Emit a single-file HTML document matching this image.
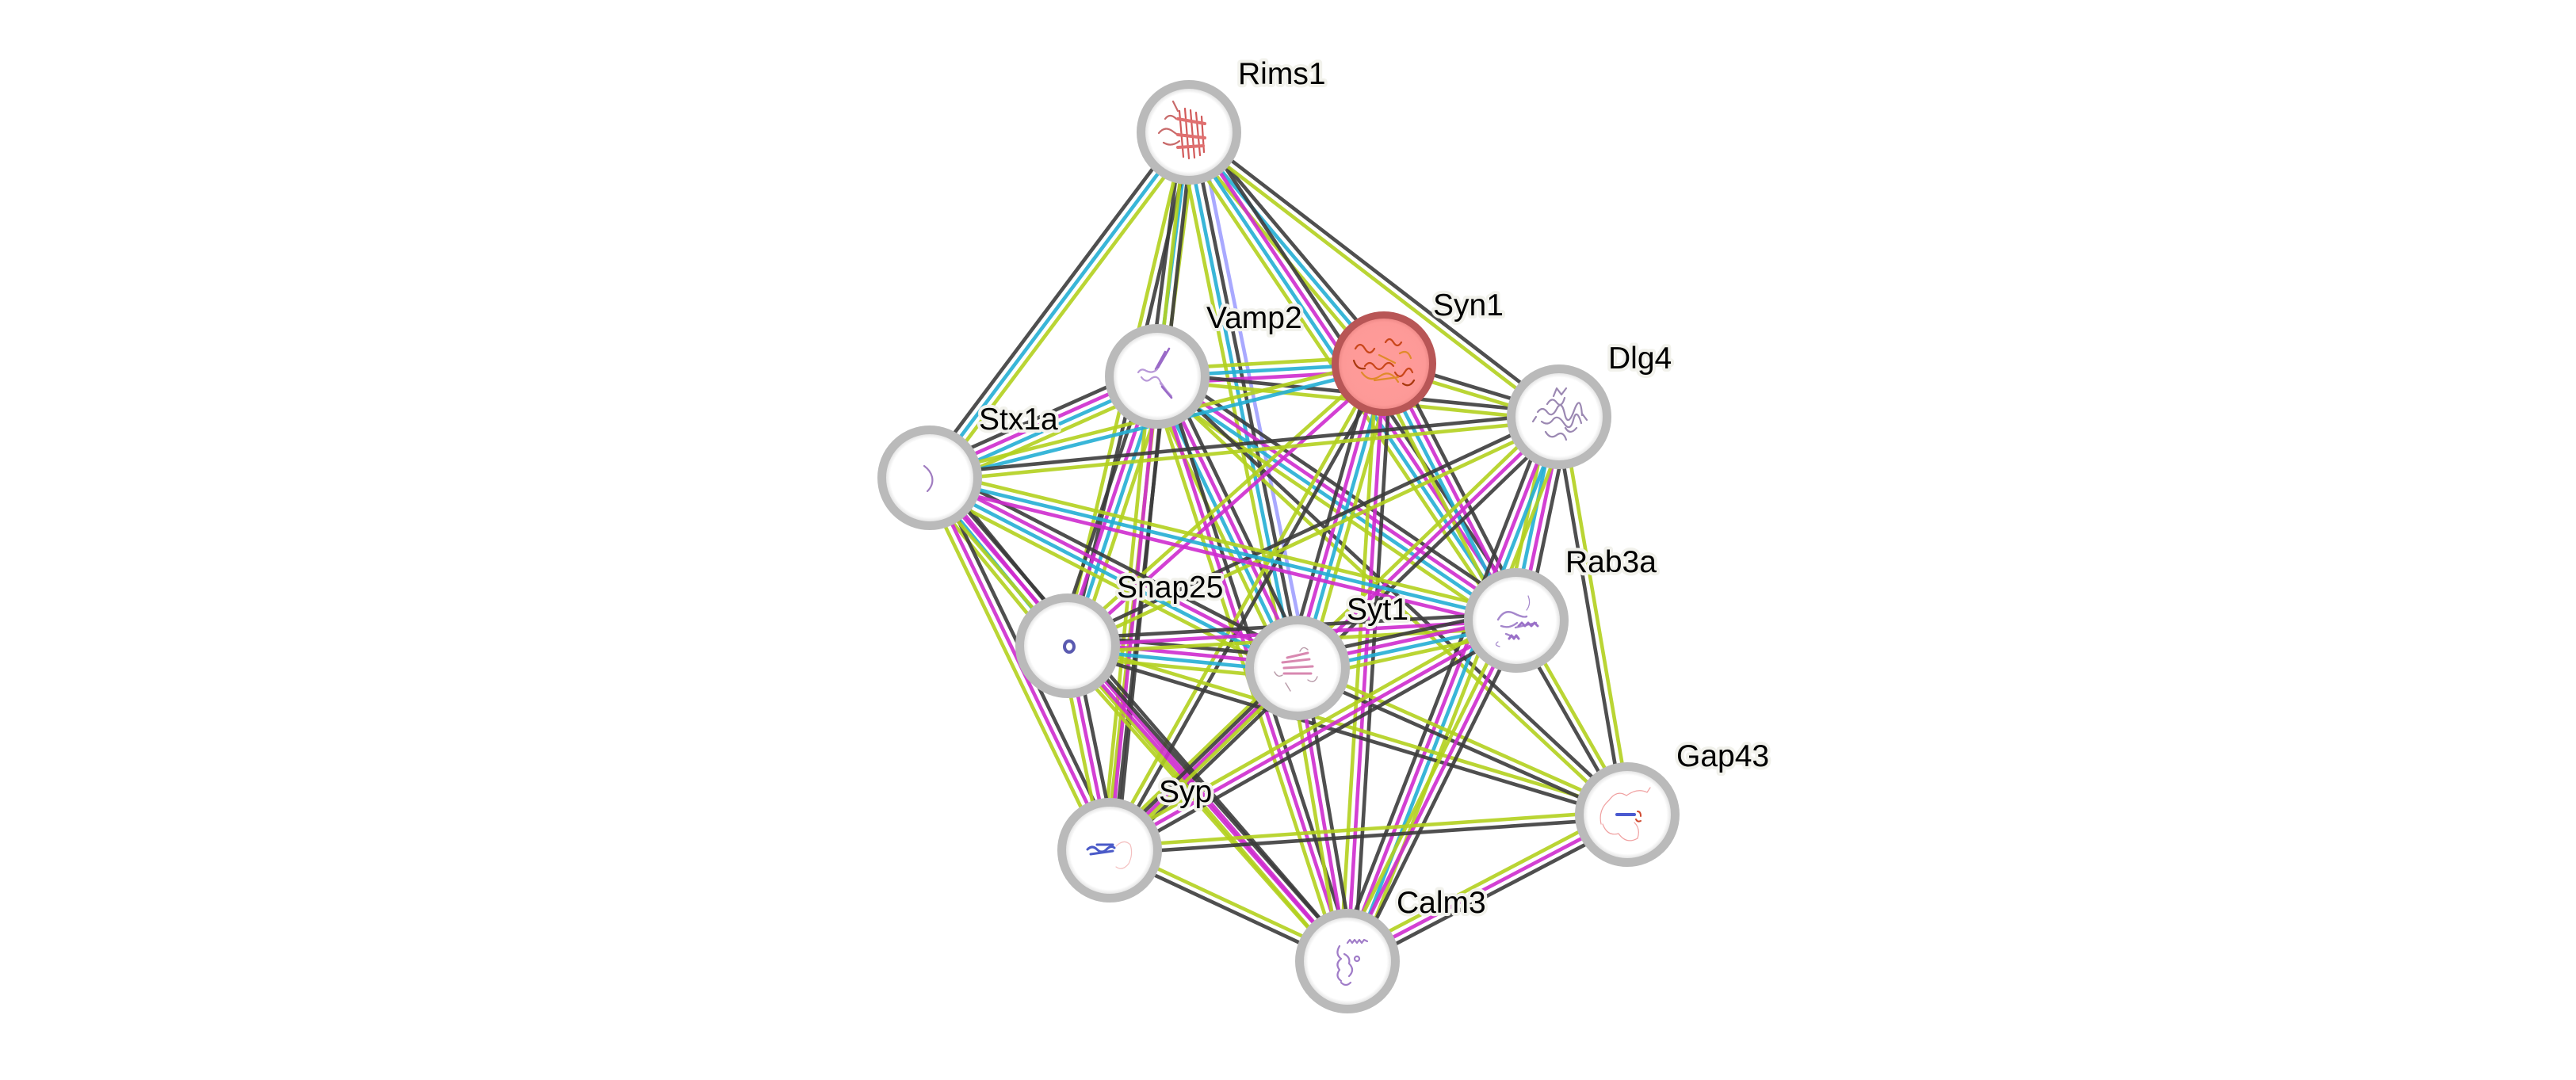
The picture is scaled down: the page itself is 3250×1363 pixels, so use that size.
<!DOCTYPE html>
<html><head><meta charset="utf-8"><title>STRING network - Syn1</title>
<style>
html,body{margin:0;padding:0;background:#fff;}
svg{display:block}
line{stroke-width:4.6;opacity:.9}
.k{stroke:#3c3c3c}.m{stroke:#cf2ccf}.c{stroke:#24afd4}.g{stroke:#b3d11f}.l{stroke:#a0a0ff}
.lab{font-family:"Liberation Sans",Arial,sans-serif;font-size:39px;fill:#000;stroke:#f2f2ec;stroke-width:8px;paint-order:stroke;stroke-linejoin:round}
.pr{fill:none;stroke-width:2.2;stroke-linecap:round;stroke-linejoin:round}
</style></head>
<body>
<svg width="3250" height="1363" viewBox="0 0 3250 1363" xmlns="http://www.w3.org/2000/svg">
<defs>
<radialGradient id="gw" cx="50%" cy="50%" r="50%">
<stop offset="0" stop-color="#fff"/><stop offset="0.82" stop-color="#fff"/><stop offset="0.92" stop-color="#e2e2e2"/><stop offset="1" stop-color="#cfcfcf"/>
</radialGradient>
<radialGradient id="gr" cx="50%" cy="50%" r="50%">
<stop offset="0" stop-color="#ff9d9b"/><stop offset="0.85" stop-color="#fd9997"/><stop offset="1" stop-color="#e57f7d"/>
</radialGradient>
</defs>
<rect width="3250" height="1363" fill="#fff"/>
<g id="edges">
<!-- R-X -->
<line class="g" x1="1500" y1="167" x2="1173" y2="603" transform="translate(7.2,5.4)"/>
<line class="c" x1="1500" y1="167" x2="1173" y2="603"/>
<line class="k" x1="1500" y1="167" x2="1173" y2="603" transform="translate(-7.2,-5.4)"/>
<!-- R-V -->
<line class="g" x1="1500" y1="167" x2="1460" y2="475" transform="translate(8.93,1.16)"/>
<line class="c" x1="1500" y1="167" x2="1460" y2="475"/>
<line class="k" x1="1500" y1="167" x2="1460" y2="475" transform="translate(-8.93,-1.16)"/>
<!-- R-N -->
<line class="k" x1="1500" y1="167" x2="1347" y2="815" transform="translate(4.38,1.04)"/>
<line class="g" x1="1500" y1="167" x2="1347" y2="815" transform="translate(-4.38,-1.04)"/>
<!-- R-P -->
<line class="k" x1="1500" y1="167" x2="1400" y2="1073" transform="translate(4.47,0.5)"/>
<line class="g" x1="1500" y1="167" x2="1400" y2="1073" transform="translate(-4.47,-0.5)"/>
<!-- R-T -->
<line class="l" x1="1500" y1="167" x2="1637" y2="843" transform="translate(13.23,-2.69)"/>
<line class="k" x1="1500" y1="167" x2="1637" y2="843" transform="translate(4.41,-0.9)"/>
<line class="c" x1="1500" y1="167" x2="1637" y2="843" transform="translate(-4.41,0.9)"/>
<line class="g" x1="1500" y1="167" x2="1637" y2="843" transform="translate(-13.23,2.69)"/>
<!-- R-S -->
<line class="k" x1="1500" y1="167" x2="1746" y2="459" transform="translate(6.89,-5.8)"/>
<line class="c" x1="1500" y1="167" x2="1746" y2="459"/>
<line class="g" x1="1500" y1="167" x2="1746" y2="459" transform="translate(-6.89,5.8)"/>
<!-- R-B -->
<line class="k" x1="1500" y1="167" x2="1913" y2="783" transform="translate(11.22,-7.52)"/>
<line class="m" x1="1500" y1="167" x2="1913" y2="783" transform="translate(3.74,-2.51)"/>
<line class="c" x1="1500" y1="167" x2="1913" y2="783" transform="translate(-3.74,2.51)"/>
<line class="g" x1="1500" y1="167" x2="1913" y2="783" transform="translate(-11.22,7.52)"/>
<!-- R-D -->
<line class="k" x1="1500" y1="167" x2="1967" y2="526" transform="translate(2.75,-3.57)"/>
<line class="g" x1="1500" y1="167" x2="1967" y2="526" transform="translate(-2.75,3.57)"/>
<!-- V-X -->
<line class="g" x1="1460" y1="475" x2="1173" y2="603" transform="translate(5.49,12.33)"/>
<line class="c" x1="1460" y1="475" x2="1173" y2="603" transform="translate(1.83,4.11)"/>
<line class="m" x1="1460" y1="475" x2="1173" y2="603" transform="translate(-1.83,-4.11)"/>
<line class="k" x1="1460" y1="475" x2="1173" y2="603" transform="translate(-5.49,-12.33)"/>
<!-- V-S -->
<line class="g" x1="1460" y1="475" x2="1746" y2="459" transform="translate(-0.5,-9)"/>
<line class="c" x1="1460" y1="475" x2="1746" y2="459"/>
<line class="m" x1="1460" y1="475" x2="1746" y2="459" transform="translate(0.5,9)"/>
<!-- V-D -->
<line class="k" x1="1460" y1="475" x2="1967" y2="526" transform="translate(0.45,-4.48)"/>
<line class="g" x1="1460" y1="475" x2="1967" y2="526" transform="translate(-0.45,4.48)"/>
<!-- V-N -->
<line class="g" x1="1460" y1="475" x2="1347" y2="815" transform="translate(12.81,4.25)"/>
<line class="c" x1="1460" y1="475" x2="1347" y2="815" transform="translate(4.27,1.42)"/>
<line class="m" x1="1460" y1="475" x2="1347" y2="815" transform="translate(-4.27,-1.42)"/>
<line class="k" x1="1460" y1="475" x2="1347" y2="815" transform="translate(-12.81,-4.25)"/>
<!-- V-T -->
<line class="k" x1="1460" y1="475" x2="1637" y2="843" transform="translate(12.16,-5.85)"/>
<line class="m" x1="1460" y1="475" x2="1637" y2="843" transform="translate(4.05,-1.95)"/>
<line class="c" x1="1460" y1="475" x2="1637" y2="843" transform="translate(-4.05,1.95)"/>
<line class="g" x1="1460" y1="475" x2="1637" y2="843" transform="translate(-12.16,5.85)"/>
<!-- V-B -->
<line class="k" x1="1460" y1="475" x2="1913" y2="783" transform="translate(7.59,-11.16)"/>
<line class="m" x1="1460" y1="475" x2="1913" y2="783" transform="translate(2.53,-3.72)"/>
<line class="c" x1="1460" y1="475" x2="1913" y2="783" transform="translate(-2.53,3.72)"/>
<line class="g" x1="1460" y1="475" x2="1913" y2="783" transform="translate(-7.59,11.16)"/>
<!-- V-P -->
<line class="k" x1="1460" y1="475" x2="1400" y2="1073" transform="translate(8.96,0.9)"/>
<line class="m" x1="1460" y1="475" x2="1400" y2="1073"/>
<line class="g" x1="1460" y1="475" x2="1400" y2="1073" transform="translate(-8.96,-0.9)"/>
<!-- V-C -->
<line class="k" x1="1460" y1="475" x2="1700" y2="1213" transform="translate(8.56,-2.78)"/>
<line class="m" x1="1460" y1="475" x2="1700" y2="1213"/>
<line class="g" x1="1460" y1="475" x2="1700" y2="1213" transform="translate(-8.56,2.78)"/>
<!-- V-G -->
<line class="k" x1="1460" y1="475" x2="2053" y2="1028" transform="translate(3.07,-3.29)"/>
<line class="g" x1="1460" y1="475" x2="2053" y2="1028" transform="translate(-3.07,3.29)"/>
<!-- S-X -->
<line class="c" x1="1746" y1="459" x2="1173" y2="603" transform="translate(1.1,4.37)"/>
<line class="g" x1="1746" y1="459" x2="1173" y2="603" transform="translate(-1.1,-4.37)"/>
<!-- S-D -->
<line class="k" x1="1746" y1="459" x2="1967" y2="526" transform="translate(1.31,-4.31)"/>
<line class="g" x1="1746" y1="459" x2="1967" y2="526" transform="translate(-1.31,4.31)"/>
<!-- S-T -->
<line class="g" x1="1746" y1="459" x2="1637" y2="843" transform="translate(12.99,3.69)"/>
<line class="c" x1="1746" y1="459" x2="1637" y2="843" transform="translate(4.33,1.23)"/>
<line class="m" x1="1746" y1="459" x2="1637" y2="843" transform="translate(-4.33,-1.23)"/>
<line class="k" x1="1746" y1="459" x2="1637" y2="843" transform="translate(-12.99,-3.69)"/>
<!-- S-N -->
<line class="m" x1="1746" y1="459" x2="1347" y2="815" transform="translate(3,3.36)"/>
<line class="g" x1="1746" y1="459" x2="1347" y2="815" transform="translate(-3,-3.36)"/>
<!-- S-P -->
<line class="k" x1="1746" y1="459" x2="1400" y2="1073" transform="translate(3.92,2.21)"/>
<line class="g" x1="1746" y1="459" x2="1400" y2="1073" transform="translate(-3.92,-2.21)"/>
<!-- S-C -->
<line class="k" x1="1746" y1="459" x2="1700" y2="1213" transform="translate(8.98,0.54)"/>
<line class="m" x1="1746" y1="459" x2="1700" y2="1213"/>
<line class="g" x1="1746" y1="459" x2="1700" y2="1213" transform="translate(-8.98,-0.54)"/>
<!-- S-B -->
<line class="k" x1="1746" y1="459" x2="1913" y2="783" transform="translate(12,-6.18)"/>
<line class="m" x1="1746" y1="459" x2="1913" y2="783" transform="translate(4,-2.06)"/>
<line class="c" x1="1746" y1="459" x2="1913" y2="783" transform="translate(-4,2.06)"/>
<line class="g" x1="1746" y1="459" x2="1913" y2="783" transform="translate(-12,6.18)"/>
<!-- D-X -->
<line class="k" x1="1967" y1="526" x2="1173" y2="603" transform="translate(-0.44,-4.48)"/>
<line class="g" x1="1967" y1="526" x2="1173" y2="603" transform="translate(0.44,4.48)"/>
<!-- D-N -->
<line class="k" x1="1967" y1="526" x2="1347" y2="815" transform="translate(-1.9,-4.08)"/>
<line class="g" x1="1967" y1="526" x2="1347" y2="815" transform="translate(1.9,4.08)"/>
<!-- D-P -->
<line class="k" x1="1967" y1="526" x2="1400" y2="1073" transform="translate(6.25,6.48)"/>
<line class="m" x1="1967" y1="526" x2="1400" y2="1073"/>
<line class="g" x1="1967" y1="526" x2="1400" y2="1073" transform="translate(-6.25,-6.48)"/>
<!-- D-B -->
<line class="k" x1="1967" y1="526" x2="1913" y2="783" transform="translate(13.22,2.78)"/>
<line class="m" x1="1967" y1="526" x2="1913" y2="783" transform="translate(4.41,0.93)"/>
<line class="c" x1="1967" y1="526" x2="1913" y2="783" transform="translate(-4.41,-0.93)"/>
<line class="g" x1="1967" y1="526" x2="1913" y2="783" transform="translate(-13.22,-2.78)"/>
<!-- D-G -->
<line class="g" x1="1967" y1="526" x2="2053" y2="1028" transform="translate(4.44,-0.76)"/>
<line class="k" x1="1967" y1="526" x2="2053" y2="1028" transform="translate(-4.44,0.76)"/>
<!-- D-C -->
<line class="g" x1="1967" y1="526" x2="1700" y2="1213" transform="translate(12.58,4.89)"/>
<line class="c" x1="1967" y1="526" x2="1700" y2="1213" transform="translate(4.19,1.63)"/>
<line class="m" x1="1967" y1="526" x2="1700" y2="1213" transform="translate(-4.19,-1.63)"/>
<line class="k" x1="1967" y1="526" x2="1700" y2="1213" transform="translate(-12.58,-4.89)"/>
<!-- X-N -->
<line class="k" x1="1173" y1="603" x2="1347" y2="815" transform="translate(10.44,-8.56)"/>
<line class="m" x1="1173" y1="603" x2="1347" y2="815" transform="translate(3.48,-2.85)"/>
<line class="c" x1="1173" y1="603" x2="1347" y2="815" transform="translate(-3.48,2.85)"/>
<line class="g" x1="1173" y1="603" x2="1347" y2="815" transform="translate(-10.44,8.56)"/>
<!-- X-T -->
<line class="k" x1="1173" y1="603" x2="1637" y2="843" transform="translate(6.2,-11.99)"/>
<line class="m" x1="1173" y1="603" x2="1637" y2="843" transform="translate(2.07,-4)"/>
<line class="c" x1="1173" y1="603" x2="1637" y2="843" transform="translate(-2.07,4)"/>
<line class="g" x1="1173" y1="603" x2="1637" y2="843" transform="translate(-6.2,11.99)"/>
<!-- X-B -->
<line class="g" x1="1173" y1="603" x2="1913" y2="783" transform="translate(2.12,-8.75)"/>
<line class="c" x1="1173" y1="603" x2="1913" y2="783"/>
<line class="m" x1="1173" y1="603" x2="1913" y2="783" transform="translate(-2.12,8.75)"/>
<!-- X-P -->
<line class="k" x1="1173" y1="603" x2="1400" y2="1073" transform="translate(8.11,-3.92)"/>
<line class="m" x1="1173" y1="603" x2="1400" y2="1073"/>
<line class="g" x1="1173" y1="603" x2="1400" y2="1073" transform="translate(-8.11,3.92)"/>
<!-- X-C -->
<line class="k" x1="1173" y1="603" x2="1700" y2="1213" transform="translate(6.81,-5.89)"/>
<line class="m" x1="1173" y1="603" x2="1700" y2="1213"/>
<line class="g" x1="1173" y1="603" x2="1700" y2="1213" transform="translate(-6.81,5.89)"/>
<!-- N-T -->
<line class="k" x1="1347" y1="815" x2="1637" y2="843" transform="translate(1.3,-13.45)"/>
<line class="m" x1="1347" y1="815" x2="1637" y2="843" transform="translate(0.43,-4.48)"/>
<line class="c" x1="1347" y1="815" x2="1637" y2="843" transform="translate(-0.43,4.48)"/>
<line class="g" x1="1347" y1="815" x2="1637" y2="843" transform="translate(-1.3,13.45)"/>
<!-- N-B -->
<line class="k" x1="1347" y1="815" x2="1913" y2="783" transform="translate(-0.5,-8.98)"/>
<line class="m" x1="1347" y1="815" x2="1913" y2="783"/>
<line class="g" x1="1347" y1="815" x2="1913" y2="783" transform="translate(0.5,8.98)"/>
<!-- N-P -->
<line class="k" x1="1347" y1="815" x2="1400" y2="1073" transform="translate(8.82,-1.81)"/>
<line class="m" x1="1347" y1="815" x2="1400" y2="1073"/>
<line class="g" x1="1347" y1="815" x2="1400" y2="1073" transform="translate(-8.82,1.81)"/>
<!-- N-C -->
<line class="k" x1="1347" y1="815" x2="1700" y2="1213" transform="translate(6.73,-5.97)"/>
<line class="m" x1="1347" y1="815" x2="1700" y2="1213"/>
<line class="g" x1="1347" y1="815" x2="1700" y2="1213" transform="translate(-6.73,5.97)"/>
<!-- N-G -->
<line class="g" x1="1347" y1="815" x2="2053" y2="1028" transform="translate(1.3,-4.31)"/>
<line class="k" x1="1347" y1="815" x2="2053" y2="1028" transform="translate(-1.3,4.31)"/>
<!-- T-B -->
<line class="k" x1="1637" y1="843" x2="1913" y2="783" transform="translate(-2.86,-13.19)"/>
<line class="m" x1="1637" y1="843" x2="1913" y2="783" transform="translate(-0.95,-4.4)"/>
<line class="c" x1="1637" y1="843" x2="1913" y2="783" transform="translate(0.95,4.4)"/>
<line class="g" x1="1637" y1="843" x2="1913" y2="783" transform="translate(2.86,13.19)"/>
<!-- T-P -->
<line class="g" x1="1637" y1="843" x2="1400" y2="1073" transform="translate(3.13,3.23)"/>
<line class="k" x1="1637" y1="843" x2="1400" y2="1073" transform="translate(-3.13,-3.23)"/>
<!-- T-C -->
<line class="k" x1="1637" y1="843" x2="1700" y2="1213" transform="translate(8.87,-1.51)"/>
<line class="m" x1="1637" y1="843" x2="1700" y2="1213"/>
<line class="g" x1="1637" y1="843" x2="1700" y2="1213" transform="translate(-8.87,1.51)"/>
<!-- T-G -->
<line class="g" x1="1637" y1="843" x2="2053" y2="1028" transform="translate(1.83,-4.11)"/>
<line class="k" x1="1637" y1="843" x2="2053" y2="1028" transform="translate(-1.83,4.11)"/>
<!-- B-P -->
<line class="k" x1="1913" y1="783" x2="1400" y2="1073" transform="translate(4.43,7.84)"/>
<line class="m" x1="1913" y1="783" x2="1400" y2="1073"/>
<line class="g" x1="1913" y1="783" x2="1400" y2="1073" transform="translate(-4.43,-7.84)"/>
<!-- B-C -->
<line class="k" x1="1913" y1="783" x2="1700" y2="1213" transform="translate(8.06,4)"/>
<line class="m" x1="1913" y1="783" x2="1700" y2="1213"/>
<line class="g" x1="1913" y1="783" x2="1700" y2="1213" transform="translate(-8.06,-4)"/>
<!-- B-G -->
<line class="g" x1="1913" y1="783" x2="2053" y2="1028" transform="translate(3.91,-2.23)"/>
<line class="k" x1="1913" y1="783" x2="2053" y2="1028" transform="translate(-3.91,2.23)"/>
<!-- P-G -->
<line class="g" x1="1400" y1="1073" x2="2053" y2="1028" transform="translate(-0.31,-4.49)"/>
<line class="k" x1="1400" y1="1073" x2="2053" y2="1028" transform="translate(0.31,4.49)"/>
<!-- P-C -->
<line class="g" x1="1400" y1="1073" x2="1700" y2="1213" transform="translate(1.9,-4.08)"/>
<line class="k" x1="1400" y1="1073" x2="1700" y2="1213" transform="translate(-1.9,4.08)"/>
<!-- C-G -->
<line class="g" x1="1700" y1="1213" x2="2053" y2="1028" transform="translate(-4.18,-7.97)"/>
<line class="m" x1="1700" y1="1213" x2="2053" y2="1028"/>
<line class="k" x1="1700" y1="1213" x2="2053" y2="1028" transform="translate(4.18,7.97)"/>
</g>

<g id="nodes">
<!-- Rims1 -->
<circle cx="1500" cy="167" r="60.5" fill="url(#gw)" stroke="#bababa" stroke-width="11"/>
<g class="pr" stroke="#d25a5a">
<path d="M1488 140 L1493 198 M1495 137 L1500 200 M1502 139 L1507 199 M1509 142 L1514 196 M1516 147 L1519 192"/>
<path d="M1462 168 q8 -10 18 -2 t16 4 M1468 180 q10 6 20 -2 M1480 128 l6 12 M1470 150 q6 -8 14 0" stroke="#c86a6a"/>
<path d="M1486 150 l34 6 M1486 170 l34 4 M1486 186 l32 -2" stroke="#e07070" stroke-width="4"/>
</g>
<!-- Syn1 -->
<circle cx="1746" cy="459" r="61.5" fill="url(#gr)" stroke="#b85656" stroke-width="9"/>
<g class="pr" stroke="#c9461a">
<path d="M1710 440 q6 -10 12 0 t12 0 M1722 462 q6 -8 12 0 t12 0 t12 0 M1748 432 q5 -8 10 0 t10 0 M1760 470 q6 10 12 0 t10 0"/>
<path d="M1718 470 q10 14 24 4 q12 -8 22 8 M1740 448 l20 10 M1734 480 l30 -4 M1766 446 q10 -6 14 6" stroke="#e08a2a"/>
<path d="M1708 455 q4 12 14 10 M1770 484 q8 6 14 -4" stroke="#a8380e"/>
</g>
<!-- Dlg4 -->
<circle cx="1967" cy="526" r="60.5" fill="url(#gw)" stroke="#bababa" stroke-width="11"/>
<g class="pr" stroke="#9b88b2" stroke-width="1.6">
<path d="M1940 520 q6 -8 12 0 t12 -4 t10 6 t12 -4 t10 6 M1945 532 q8 6 14 -2 t14 4 t12 -4 t10 4 M1952 510 q6 -10 12 -2 t10 -6 M1960 500 l4 -10 l6 8 l6 -8 M1950 545 q6 10 14 4 t12 6 M1975 540 q6 10 14 0 M1938 526 l-4 6 M1996 522 l6 8"/>
</g>
<!-- Vamp2 -->
<circle cx="1460" cy="475" r="60.5" fill="url(#gw)" stroke="#bababa" stroke-width="11"/>
<g class="pr" stroke="#9a6ac8" stroke-width="1.6">
<path d="M1475 440 l-14 24 M1470 444 l-12 22" stroke-width="2.6"/>
<path d="M1436 470 q4 -6 10 -2 q8 4 14 -2 M1440 476 q6 8 12 2 q8 -6 12 4 l10 14 M1464 484 l14 16" stroke="#b898d8"/>
<path d="M1466 488 l12 14" stroke-width="2.6"/>
</g>
<!-- Stx1a -->
<circle cx="1173" cy="603" r="60.5" fill="url(#gw)" stroke="#bababa" stroke-width="11"/>
<path class="pr" d="M1166 588 q8 6 10 14 q2 10 -6 18" stroke="#a07cc0" stroke-width="4"/>
<!-- Snap25 -->
<circle cx="1347" cy="815" r="60.5" fill="url(#gw)" stroke="#bababa" stroke-width="11"/>
<ellipse cx="1349" cy="816" rx="6" ry="7" fill="none" stroke="#5a5ab0" stroke-width="4"/>
<!-- Syt1 -->
<circle cx="1637" cy="843" r="60.5" fill="url(#gw)" stroke="#bababa" stroke-width="11"/>
<g class="pr" stroke="#d888b0">
<path d="M1618 836 l34 -4 M1620 843 l36 -2 M1620 850 l34 0 M1624 830 l26 -6" stroke-width="3"/>
<path d="M1608 848 q4 8 10 4 M1622 862 l6 10 M1650 858 q8 6 12 -4 M1640 822 q4 -8 10 -2" stroke="#b89aa8" stroke-width="1.4"/>
</g>
<!-- Rab3a -->
<circle cx="1913" cy="783" r="60.5" fill="url(#gw)" stroke="#bababa" stroke-width="11"/>
<g class="pr" stroke="#a587cc">
<path d="M1890 782 q8 -14 20 -8 t16 4 M1894 790 q10 4 20 -4 M1912 792 l26 -6 M1900 800 l10 4" stroke-width="2.4"/>
<path d="M1916 790 l4 -4 l4 4 l4 -4 l4 4 l4 -4 l4 4 M1904 806 l3 -4 l3 4 l3 -4 l3 4" stroke="#9a70c8" stroke-width="3"/>
<path d="M1928 752 q4 10 -2 18 M1890 810 q-6 4 2 6" stroke-width="1.2"/>
</g>
<!-- Gap43 -->
<circle cx="2053" cy="1028" r="60.5" fill="url(#gw)" stroke="#bababa" stroke-width="11"/>
<g class="pr">
<path d="M2030 1010 q10 -14 22 -6 q14 -10 26 -4 l4 -6 M2020 1040 q-4 -18 10 -30 M2022 1040 q6 16 20 12 q10 14 24 6 q4 -12 -4 -20" stroke="#f0a0a0" stroke-width="1.2"/>
<path d="M2040 1028 l22 0" stroke="#4a5ad0" stroke-width="4"/>
<path d="M2066 1024 q4 0 4 6 M2064 1034 q2 4 6 2" stroke="#d04a30" stroke-width="2"/>
</g>
<!-- Syp -->
<circle cx="1400" cy="1073" r="60.5" fill="url(#gw)" stroke="#bababa" stroke-width="11"/>
<g class="pr">
<path d="M1372 1072 q6 -6 12 0 t12 0 t10 -2 M1376 1078 l28 -4 M1384 1066 l20 0" stroke="#4a5ac8" stroke-width="3"/>
<path d="M1408 1068 q10 -10 18 -2 q4 12 -2 24 q-8 10 -16 4" stroke="#f4c0c0" stroke-width="1.2"/>
</g>
<!-- Calm3 -->
<circle cx="1700" cy="1213" r="60.5" fill="url(#gw)" stroke="#bababa" stroke-width="11"/>
<g class="pr" stroke="#a07cc8" stroke-width="2.6">
<path d="M1700 1190 l3 -4 l3 4 l3 -4 l3 4 l3 -4 l3 4 l3 -4 l4 2"/>
<path d="M1690 1194 q-6 10 2 16 q-8 6 -2 14 q-6 8 2 14 M1696 1204 q8 4 6 12 q8 8 0 16 M1692 1240 q6 6 12 0"/>
<circle cx="1712" cy="1210" r="3" fill="none"/>
</g>
</g>

<g id="labels">
<text class="lab" x="1562" y="106">Rims1</text>
<text class="lab" x="1808" y="398">Syn1</text>
<text class="lab" x="2029" y="465">Dlg4</text>
<text class="lab" x="1522" y="414">Vamp2</text>
<text class="lab" x="1235" y="542">Stx1a</text>
<text class="lab" x="1409" y="754">Snap25</text>
<text class="lab" x="1699" y="782">Syt1</text>
<text class="lab" x="1975" y="722">Rab3a</text>
<text class="lab" x="2115" y="967">Gap43</text>
<text class="lab" x="1462" y="1012">Syp</text>
<text class="lab" x="1762" y="1152">Calm3</text>
</g>
</svg>
</body></html>
